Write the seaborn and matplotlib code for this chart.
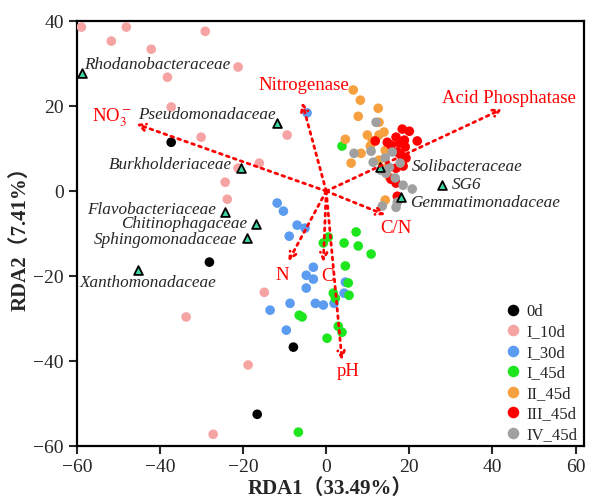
import pandas as pd
import numpy as np
import matplotlib
matplotlib.use('Agg')
import matplotlib.pyplot as plt
import seaborn as sns

# Координаты образцов (RDA1, RDA2) по группам
x_0d = [-37.3, -28.1, -7.9, -16.6]
y_0d = [11.5, -16.7, -36.7, -52.5]

x_i10 = [-58.9, -48.1, -51.7, -29.1, -42.1, -21.2, -38.2, -37.3, -30.1, -9.4,
         -16.1, -21.2, -24.3, -23.8, -14.9, -33.7, -18.8, -27.2]
y_i10 = [38.6, 38.6, 35.3, 37.6, 33.4, 29.2, 26.8, 19.8, 12.7, 13.2,
         6.6, 5.4, 2.1, -1.9, -23.8, -29.6, -40.9, -57.2]

x_i30 = [-4.6, -11.8, -10.3, -7.0, -5.1, -8.9, -3.1, -4.8, -3.1, -4.8,
         -8.7, -13.5, -2.6, -0.7, 1.9, -9.6, 4.6, 4.3]
y_i30 = [18.4, -2.8, -4.7, -8.0, -8.7, -10.6, -17.9, -19.8, -20.7, -22.8,
         -26.4, -28.0, -26.4, -26.8, -26.4, -32.7, -21.4, -24.0]

x_i45 = [3.8, 7.2, 4.3, 7.7, 10.8, 0.5, -0.7, 4.6, 5.3, 5.5,
         1.7, 2.2, -6.5, -5.8, 2.9, 3.8, 0.2, -6.7]
y_i45 = [10.6, -9.6, -12.2, -12.9, -14.8, -10.8, -12.2, -17.6, -21.6, -24.5,
         -24.0, -25.2, -29.2, -29.6, -31.8, -33.2, -34.6, -56.7]

x_ii45 = [6.5, 8.2, 7.7, 12.5, 12.7, 13.9, 12.7, 4.6, 10.6, 8.4,
          6.0, 14.2, 12.7, 14.7, 15.2, 14.2, 9.9, 11.1]
y_ii45 = [23.8, 21.4, 17.6, 19.5, 16.2, 13.9, 13.2, 12.2, 10.6, 8.9,
          6.6, 9.6, 7.3, 5.6, 3.3, -2.1, 13.2, 11.8]

x_iii45 = [18.3, 20.0, 11.8, 14.7, 16.8, 17.6, 18.8, 21.9, 19.0, 17.1,
           18.0, 18.5, 15.6, 16.8, 17.1, 19.2, 16.8, 15.6]
y_iii45 = [14.6, 14.1, 11.8, 11.5, 12.7, 11.3, 12.0, 11.8, 10.4, 9.2,
           8.5, 5.9, 2.8, 1.9, -1.2, 7.8, 5.4, 10.8]

x_iv45 = [12.0, 6.7, 11.3, 14.2, 17.8, 14.4, 16.6, 18.5, 20.7, 13.5,
          16.8, 17.1, 10.8, 15.9, 15.2, 13.2]
y_iv45 = [16.2, 8.9, 6.8, 7.8, 6.6, 4.2, 3.1, 1.4, 0.5, -3.5,
          -3.8, -2.6, 9.4, 9.2, 5.6, 4.9]

groups = ['0d', 'I_10d', 'I_30d', 'I_45d', 'II_45d', 'III_45d', 'IV_45d']
group_colors = ['#000000', '#F5A3A3', '#5B9BF0', '#1EE61E', '#F7A040', '#FF0000', '#A0A0A0']

# Таксоны (треугольники)
taxa = ['Rhodanobacteraceae', 'Pseudomonadaceae', 'Burkholderiaceae', 'Flavobacteriaceae',
        'Chitinophagaceae', 'Sphingomonadaceae', 'Xanthomonadaceae', 'Solibacteraceae',
        'SG6', 'Gemmatimonadaceae']
taxa_x = [-58.7, -11.8, -20.4, -24.3, -16.8, -19.0, -45.2, 13.0, 27.9, 18.0]
taxa_y = [27.8, 16.0, 5.4, -4.9, -7.8, -11.1, -18.6, 5.6, 1.4, -1.4]
taxa_lab_x = [-58.2, -12.1, -22.6, -26.5, -19.0, -21.4, -59.4, 20.7, 30.3, 20.2]
taxa_lab_y = [29.6, 17.9, 6.1, -4.5, -7.8, -11.4, -21.6, 5.6, 1.4, -2.8]
taxa_ha = ['left', 'right', 'right', 'right', 'right', 'right', 'left', 'left', 'left', 'left']

# Факторы среды (стрелки)
env = ['NO$_3^-$', 'Nitrogenase', 'Acid Phosphatase', 'C/N', 'N', 'C', 'pH']
env_x = [-45.7, -5.8, 42.3, 14.2, -9.1, -0.7, 3.8]
env_y = [15.8, 20.9, 19.3, -5.6, -16.5, -16.7, -39.8]
env_lab_x = [-51.7, -5.5, 44.0, 16.8, -10.6, 0.3, 5.3]
env_lab_y = [17.2, 24.9, 21.9, -8.7, -19.8, -20.2, -42.4]

xs = [x_0d, x_i10, x_i30, x_i45, x_ii45, x_iii45, x_iv45]
ys = [y_0d, y_i10, y_i30, y_i45, y_ii45, y_iii45, y_iv45]
df = pd.concat([pd.DataFrame({'RDA1': a, 'RDA2': b, 'group': g}) for a, b, g in zip(xs, ys, groups)],
               ignore_index=True)

sns.set_style('ticks')
plt.rcParams['font.family'] = ['Liberation Serif', 'Noto Sans CJK SC', 'DejaVu Sans']
plt.rcParams['mathtext.fontset'] = 'stix'

fig = plt.figure(figsize=(5.91, 5.03), dpi=100)
ax = fig.add_axes([0.130, 0.113, 0.858, 0.845])

sns.scatterplot(data=df, x='RDA1', y='RDA2', hue='group', hue_order=groups,
                palette=group_colors, s=48, linewidth=0, ax=ax, zorder=3)

ax.scatter(taxa_x, taxa_y, marker='^', s=40, color='#3DD6A3', edgecolor='black',
           linewidth=1.3, zorder=4)
for name, tx, ty, ha in zip(taxa, taxa_lab_x, taxa_lab_y, taxa_ha):
    ax.text(tx, ty, name, ha=ha, va='center', fontsize=12.3, style='italic', zorder=5)

for name, ex, ey, lx, ly in zip(env, env_x, env_y, env_lab_x, env_lab_y):
    ax.annotate('', xy=(ex, ey), xytext=(0, 0),
                arrowprops=dict(arrowstyle='->', color='red', lw=2, linestyle=':',
                                shrinkA=0, shrinkB=0, mutation_scale=12), zorder=6)
    ax.text(lx, ly, name, color='red', ha='center', va='center', fontsize=13.5, zorder=6)

ax.set_xlim(-60, 62)
ax.set_ylim(-60, 40)
ax.set_xticks([-60, -40, -20, 0, 20, 40, 60])
ax.set_yticks([-60, -40, -20, 0, 20, 40])
ax.tick_params(labelsize=14, width=1.5, length=6, direction='out')
for sp in ax.spines.values():
    sp.set_linewidth(1.6)
    sp.set_color('black')

ax.set_xlabel('RDA1（33.49%）', fontsize=15, fontweight='bold', labelpad=2)
ax.set_ylabel('RDA2（7.41%）', fontsize=15, fontweight='bold', labelpad=2)

leg = ax.legend(loc='lower left', bbox_to_anchor=(0.844, 0.008), frameon=False, fontsize=12,
                handlelength=1.0, handletextpad=0.3, labelspacing=0.27, markerscale=1.2,
                borderpad=0, borderaxespad=0)
leg.set_title(None)

plt.savefig('out.png', dpi=100)
